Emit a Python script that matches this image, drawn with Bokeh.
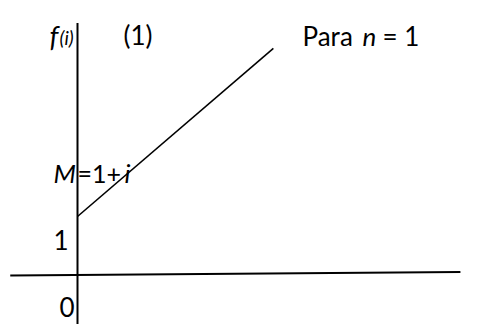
from bokeh.plotting import figure
from bokeh.models import Range1d
from bokeh.core.properties import value
from bokeh.embed import file_html
from bokeh.resources import INLINE

# Diagram data (one unit = the value "1" on the f(i) axis)
i_axis_x = [-1.14, 6.49]
i_axis_y = [0.0, 0.06]
f_axis_x = [0.0, 0.0]
f_axis_y = [-0.83, 4.28]
line_i = [0.0, 3.32]
line_f = [1.0, 3.85]

PX = 59.0  # pixels per unit
W, H = 477, 324
OX, OY = 77, 275  # origin position in frame (from left, from top)

p = figure(width=W, height=H, output_backend="svg", toolbar_location=None,
           x_range=Range1d(-OX / PX, (W - OX) / PX),
           y_range=Range1d(-(H - OY) / PX, OY / PX),
           min_border=0)
p.axis.visible = False
p.grid.visible = False
p.outline_line_color = None
p.background_fill_color = "white"
p.border_fill_color = "white"

p.line(i_axis_x, i_axis_y, line_color="black", line_width=2)
p.line(f_axis_x, f_axis_y, line_color="black", line_width=2)
p.line(line_i, line_f, line_color="black", line_width=1.6)

FONT = value("Lato")


def lbl(sx, sy, txt, size="26px", style="normal"):
    x = (sx - OX) / PX
    y = (OY - sy) / PX
    p.text(x=[x], y=[y], text=[txt], text_font=FONT, text_font_size=size,
           text_font_style=style, text_color="black",
           text_baseline="alphabetic", text_align="left")


lbl(49, 35, "f", size="28px", style="italic")
lbl(59, 37, "(i)", size="19px", style="italic")
lbl(123, 34, "(1)")
lbl(302, 35, "Para")
lbl(362, 35, "n", style="italic")
lbl(382, 35, "= 1")
lbl(53, 172, "M", style="italic")
lbl(77, 172, "=1+", size="25px")
lbl(124, 172, "i", style="italic")
lbl(53, 239, "1")
lbl(59, 306, "0")

open("out.html", "w").write(file_html(p, INLINE))
